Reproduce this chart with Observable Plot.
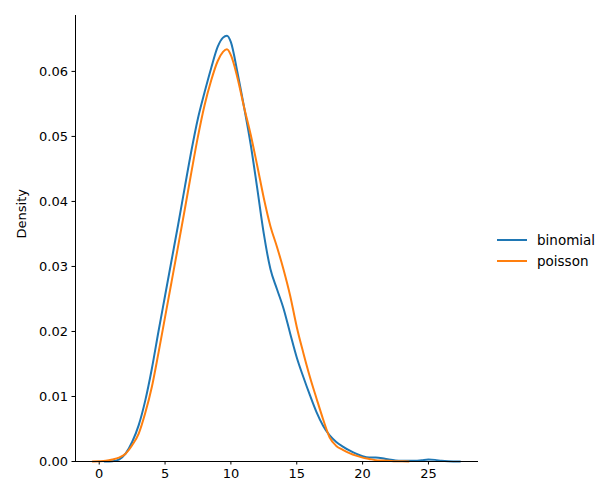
<!DOCTYPE html>
<html>
<head>
<meta charset="utf-8">
<script src="https://cdn.jsdelivr.net/npm/d3@7"></script>
<script src="https://cdn.jsdelivr.net/npm/@observablehq/plot@0.6"></script>
<style>
  body { margin: 0; background: #fff; font-family: "DejaVu Sans", sans-serif; }
  #wrap { position: relative; width: 609px; height: 500px; }
  #legend { position: absolute; left: 497px; top: 229px; font-size: 13.5px; color: #000; }
  .item { display: flex; align-items: center; height: 21px; }
  .sw { width: 30px; height: 2px; margin-right: 10px; }
</style>
</head>
<body>
<div id="wrap"></div>
<script>
const seriesNames = ["binomial", "poisson"];
const seriesColors = ["#1f77b4", "#ff7f0e"];

const binomialX = [0.4,1.0,1.5,2.0,2.5,3.0,3.5,4.0,4.5,5.0,5.5,6.0,6.5,7.0,7.5,8.0,8.5,9.0,9.4,9.7,10.0,10.5,11.0,11.5,12.0,12.5,13.0,13.5,14.0,14.5,15.0,15.5,16.0,16.5,17.0,17.5,18.0,18.5,19.0,19.5,20.0,20.5,21.0,21.5,22.0,22.5,23.0,23.5,24.0,24.5,25.0,25.5,26.0,26.5,27.0,27.4];
const binomialY = [0,0.00005,0.0003,0.0012,0.003,0.0056,0.0094,0.0143,0.0200,0.0255,0.0310,0.0365,0.0422,0.0478,0.0528,0.0568,0.0605,0.0638,0.0652,0.0655,0.0645,0.0598,0.0545,0.0488,0.0420,0.0350,0.0296,0.0265,0.0235,0.0197,0.0160,0.0130,0.0102,0.0076,0.0055,0.0040,0.0030,0.0023,0.0017,0.0012,0.0008,0.0006,0.0006,0.0005,0.0003,0.00015,0.0001,0.0001,0.0001,0.0002,0.0003,0.00025,0.0001,0.00003,0.00001,0];

const poissonX = [-0.5,0.0,0.5,1.0,1.5,2.0,2.5,3.0,3.5,4.0,4.5,5.0,5.5,6.0,6.5,7.0,7.5,8.0,8.5,9.0,9.4,9.7,10.0,10.5,11.0,11.5,12.0,12.5,13.0,13.5,14.0,14.5,15.0,15.5,16.0,16.5,17.0,17.5,18.0,18.5,19.0,19.5,20.0,20.5,21.0,21.5,22.0,22.5,23.0,23.5];
const poissonY = [0,0.00003,0.0001,0.0003,0.0006,0.0012,0.0025,0.0043,0.0075,0.0115,0.0167,0.0222,0.0277,0.0332,0.0388,0.0445,0.0500,0.0548,0.0586,0.0616,0.0630,0.0634,0.0625,0.0590,0.0545,0.0503,0.0455,0.0405,0.0362,0.0330,0.0295,0.0255,0.0207,0.0167,0.0130,0.0097,0.0065,0.0037,0.0024,0.0018,0.0013,0.0009,0.0006,0.0004,0.0002,0.00015,0.0001,0.00005,0.00002,0];

const xTicks = [0, 5, 10, 15, 20, 25];
const yTicks = [0, 0.01, 0.02, 0.03, 0.04, 0.05, 0.06];
const xDomain = [-1.8, 28.8];
const yDomain = [0, 0.0686];

const data = [
  ...binomialX.map((x, i) => ({x, y: binomialY[i], s: seriesNames[0]})),
  ...poissonX.map((x, i) => ({x, y: poissonY[i], s: seriesNames[1]}))
];

const chart = Plot.plot({
  width: 609,
  height: 500,
  marginLeft: 75,
  marginRight: 131,
  marginTop: 15,
  marginBottom: 39,
  style: {fontFamily: "DejaVu Sans, sans-serif", fontSize: "13px", color: "#000", background: "#fff"},
  x: {domain: xDomain, label: null},
  y: {domain: yDomain, label: null},
  color: {domain: seriesNames, range: seriesColors},
  marks: [
    Plot.axisX({ticks: xTicks, tickSize: 3.5, tickPadding: 4, label: null, fontSize: 13}),
    Plot.axisY({ticks: yTicks, tickSize: 3.5, tickPadding: 4, tickFormat: d3.format(".2f"), label: null, fontSize: 13}),
    Plot.line(data, {x: "x", y: "y", z: "s", stroke: "s", strokeWidth: 2, curve: "monotone-x"}),
    Plot.ruleY([yDomain[0]], {stroke: "#000", strokeWidth: 1}),
    Plot.ruleX([xDomain[0]], {stroke: "#000", strokeWidth: 1}),
    Plot.text(["Density"], {frameAnchor: "left", dx: -54, rotate: -90, fontSize: 13, fill: "#000"})
  ]
});

const wrap = document.getElementById("wrap");
wrap.appendChild(chart);

const legend = document.createElement("div");
legend.id = "legend";
seriesNames.forEach((name, i) => {
  const item = document.createElement("div");
  item.className = "item";
  const sw = document.createElement("div");
  sw.className = "sw";
  sw.style.background = seriesColors[i];
  const label = document.createElement("span");
  label.textContent = name;
  item.appendChild(sw);
  item.appendChild(label);
  legend.appendChild(item);
});
wrap.appendChild(legend);
</script>
</body>
</html>
